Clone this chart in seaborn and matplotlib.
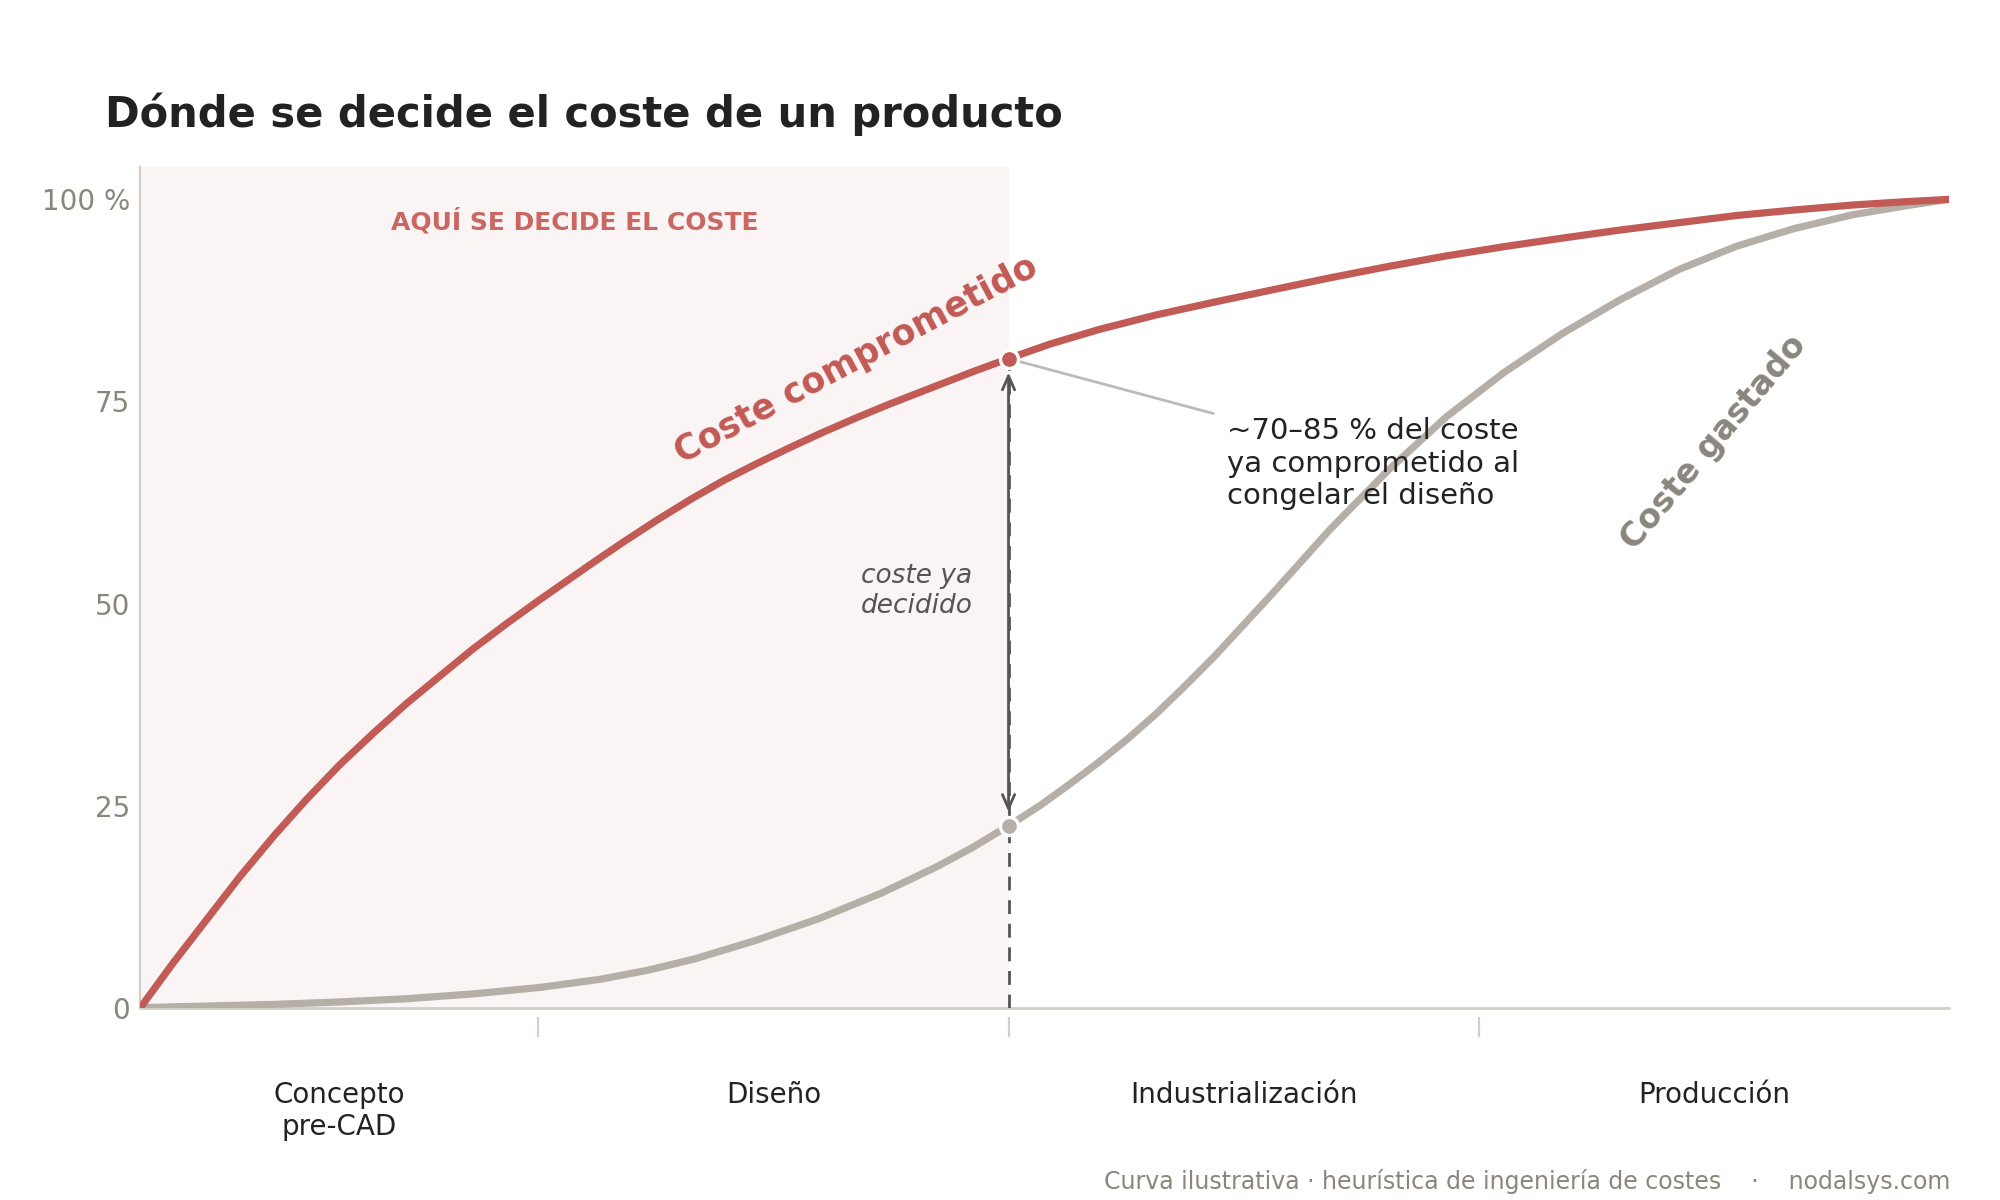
import pandas as pd
import seaborn as sns
import matplotlib.pyplot as plt

# Curvas (avance del proyecto 0..1, % del coste total)
progress_committed = [0, 0.018, 0.037, 0.055, 0.074, 0.092, 0.110, 0.129, 0.147, 0.166,
                      0.184, 0.203, 0.221, 0.239, 0.2486, 0.267, 0.2855, 0.304, 0.3223,
                      0.3407, 0.3592, 0.3776, 0.3961, 0.4145, 0.4329, 0.4605, 0.48,
                      0.503, 0.53, 0.5616, 0.594, 0.6258, 0.6579, 0.69, 0.722, 0.754,
                      0.786, 0.818, 0.85, 0.8825, 0.915, 0.9467, 0.975, 1.0]
committed = [0, 5.5, 11.0, 16.2, 21.3, 25.8, 30.0, 34.0, 37.6, 41.1,
             44.4, 47.6, 50.5, 53.3, 54.8, 57.6, 60.3, 62.85, 65.2,
             67.3, 69.3, 71.2, 73.0, 74.7, 76.3, 78.7, 80.3,
             82.1, 83.9, 85.7, 87.3, 88.8, 90.3, 91.7, 93.0, 94.15,
             95.2, 96.2, 97.1, 98.0, 98.7, 99.3, 99.7, 100]

progress_spent = [0, 0.037, 0.074, 0.110, 0.147, 0.184, 0.221, 0.254, 0.28, 0.306,
                  0.34, 0.375, 0.41, 0.44, 0.46, 0.48, 0.4974, 0.5135, 0.5295, 0.5456,
                  0.5616, 0.5776, 0.5936, 0.6258, 0.6579, 0.69, 0.7221, 0.7541, 0.7862,
                  0.8183, 0.8504, 0.8825, 0.9146, 0.9467, 0.9788, 1.0]
spent = [0, 0.2, 0.4, 0.7, 1.1, 1.7, 2.5, 3.5, 4.6, 6.0,
         8.3, 11.0, 14.2, 17.4, 19.8, 22.5, 25.0, 27.6, 30.3, 33.2,
         36.35, 39.8, 43.4, 51.2, 59.2, 66.5, 73.1, 78.6, 83.4,
         87.6, 91.3, 94.2, 96.4, 98.1, 99.3, 100]

phases = ['Concepto\npre-CAD', 'Diseño', 'Industrialización', 'Producción']
phase_edges = [0, 0.22, 0.48, 0.74, 1.0]
freeze = 0.48            # congelacion del diseño
committed_at_freeze = 80.3
spent_at_freeze = 22.5

y_ticks = [0, 25, 50, 75, 100]
y_labels = ['0', '25', '50', '75', '100 %']

RED = '#c25a55'
GREY = '#b5afa8'
DARK = '#222222'
MUTED = '#8a857d'
SHADE = '#faf4f4'
RULE = '#d3cec6'

df = pd.concat([
    pd.DataFrame({'progress': progress_spent, 'pct': spent, 'serie': 'Coste gastado'}),
    pd.DataFrame({'progress': progress_committed, 'pct': committed, 'serie': 'Coste comprometido'}),
], ignore_index=True)

sns.set_style('white')
plt.rcParams['font.family'] = ['DejaVu Sans']

fig = plt.figure(figsize=(10, 6), dpi=200)
ax = fig.add_axes([0.0702, 0.1603, 0.9043, 0.7005])

ax.axvspan(phase_edges[0], freeze, color=SHADE, lw=0, zorder=0)

sns.lineplot(data=df, x='progress', y='pct', hue='serie',
             hue_order=['Coste gastado', 'Coste comprometido'],
             palette={'Coste comprometido': RED, 'Coste gastado': GREY},
             linewidth=2.6, estimator=None, sort=False, legend=False, ax=ax, zorder=3)
for line in ax.get_lines():
    line.set_solid_joinstyle('round')

# linea de congelacion del diseño
ax.vlines(freeze, 0, committed_at_freeze, colors='#555555', lw=1.0,
          linestyles=(0, (5, 3.5)), zorder=2)
ax.annotate('', xy=(freeze, spent_at_freeze), xytext=(freeze, committed_at_freeze),
            arrowprops=dict(arrowstyle='<->,head_length=0.5,head_width=0.22',
                            color='#555555', lw=1.0, shrinkA=5, shrinkB=5,
                            mutation_scale=10), zorder=4)

ax.plot([freeze], [committed_at_freeze], 'o', ms=6.5, mfc=RED, mec='white', mew=1.2, zorder=6)
ax.plot([freeze], [spent_at_freeze], 'o', ms=6.5, mfc=GREY, mec='white', mew=1.2, zorder=6)

# textos
ax.text(freeze / 2, 97.3, 'AQUÍ SE DECIDE EL COSTE', ha='center', va='center',
        fontsize=9, fontweight='bold', color='#c96763')
ax.text(0.396, 80.2, 'Coste comprometido', rotation=28, ha='center', va='center',
        fontsize=12.5, fontweight='bold', color=RED)
ax.text(0.870, 69.9, 'Coste gastado', rotation=50, ha='center', va='center',
        fontsize=12, fontweight='bold', color=MUTED)
ax.text(0.46, 51.6, 'coste ya\ndecidido', ha='right', va='center', ma='right',
        fontsize=9.5, style='italic', color='#555555')
ax.annotate('~70–85 % del coste\nya comprometido al\ncongelar el diseño',
            xy=(freeze, committed_at_freeze), xytext=(0.601, 67.3),
            ha='left', va='center', fontsize=10.5, color=DARK,
            arrowprops=dict(arrowstyle='-', color='#bbbbbb', lw=1.0,
                            relpos=(0, 1), shrinkA=3, shrinkB=4), zorder=5)

# ejes
ax.set_xlim(0, 1)
ax.set_ylim(0, 104)
ax.set_yticks(y_ticks)
ax.set_yticklabels(y_labels)
centers = [(a + b) / 2 for a, b in zip(phase_edges[:-1], phase_edges[1:])]
ax.set_xticks(centers)
ax.set_xticklabels(phases)
ax.set_xticks(phase_edges[1:-1], minor=True)
ax.set_xlabel('')
ax.set_ylabel('')
ax.tick_params(axis='x', which='major', bottom=True, length=0, pad=23,
               labelsize=10, labelcolor=DARK)
ax.tick_params(axis='x', which='minor', bottom=True, length=7.3, width=0.8,
               color=RULE, direction='out')
ax.tick_params(axis='y', length=0, pad=3.7, labelsize=10, labelcolor=MUTED)

for side in ['top', 'right']:
    ax.spines[side].set_visible(False)
ax.spines['bottom'].set_position(('outward', 3.3))
ax.spines['bottom'].set_visible(False)
ax.spines['left'].set_color(RULE)
ax.spines['left'].set_linewidth(0.8)
ax.axhline(0, color=RULE, lw=1.0, clip_on=False, zorder=1)

fig.text(0.0523, 0.894, 'Dónde se decide el coste de un producto', ha='left', va='baseline',
         fontsize=15, fontweight='bold', color=DARK)
fig.text(0.975, 0.009,
         'Curva ilustrativa · heurística de ingeniería de costes    ·    nodalsys.com',
         ha='right', va='baseline', fontsize=8.5, color=MUTED)

fig.savefig('out.png', dpi=200)
